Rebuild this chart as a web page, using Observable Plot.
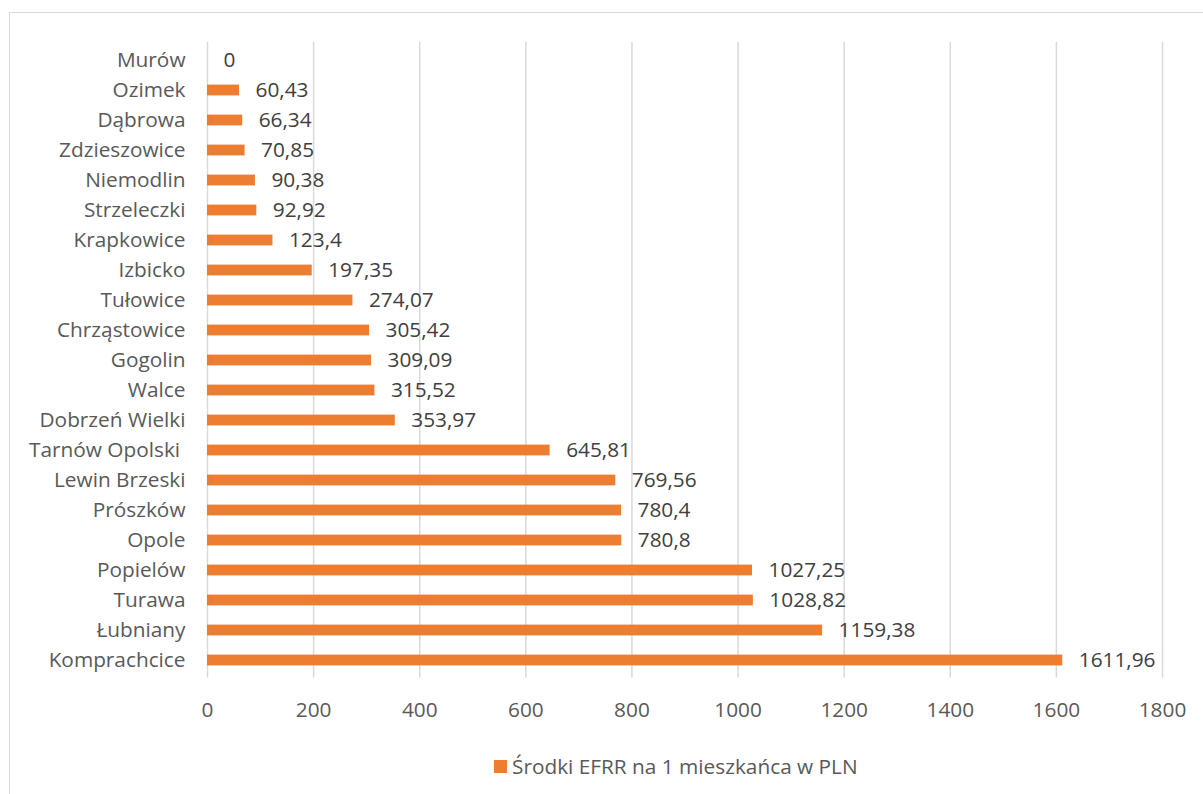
<!DOCTYPE html>
<html>
<head>
<meta charset="utf-8">
<script src="https://cdn.jsdelivr.net/npm/d3@7"></script>
<script src="https://cdn.jsdelivr.net/npm/@observablehq/plot@0.6"></script>
<style>
  html, body { margin: 0; padding: 0; background: #fff; overflow: hidden; }
  #frame { position: absolute; left: 9px; top: 12px; width: 1300px; height: 900px; border: 1.5px solid #d9d9d9; box-sizing: border-box; }
  #chart { position: absolute; left: 0; top: 0; }
  #chart svg { display: block; }
  #legend { position: absolute; left: 494px; top: 752px; font-family: "Open Sans", sans-serif; font-size: 20.8px; color: #595959; display: flex; align-items: center; white-space: nowrap; }
  #legend .sw { width: 13px; height: 13px; background: #ED7D31; margin-right: 5px; }
</style>
</head>
<body>
<div id="frame"></div>
<div id="chart"></div>
<div id="legend"><span class="sw"></span><span>Środki EFRR na 1 mieszkańca w PLN</span></div>
<script>
const categories = ["Murów","Ozimek","Dąbrowa","Zdzieszowice","Niemodlin","Strzeleczki","Krapkowice","Izbicko","Tułowice","Chrząstowice","Gogolin","Walce","Dobrzeń Wielki","Tarnów Opolski ","Lewin Brzeski","Prószków","Opole","Popielów","Turawa","Łubniany","Komprachcice"];
const values = [0,60.43,66.34,70.85,90.38,92.92,123.4,197.35,274.07,305.42,309.09,315.52,353.97,645.81,769.56,780.4,780.8,1027.25,1028.82,1159.38,1611.96];
const xTicks = [0,200,400,600,800,1000,1200,1400,1600,1800];
const seriesName = "Środki EFRR na 1 mieszkańca w PLN";

const data = categories.map((c, i) => ({name: c, value: values[i]}));
const fmt = v => String(v).replace(".", ",");

const chart = Plot.plot({
  width: 1203,
  height: 740,
  marginLeft: 207,
  marginRight: 41,
  marginTop: 42,
  marginBottom: 62.5,
  style: {fontFamily: "'Open Sans', sans-serif", background: "transparent"},
  x: {domain: [0, 1800], label: null},
  y: {domain: categories, padding: 0, label: null},
  marks: [
    Plot.gridX(xTicks, {stroke: "#d9d9d9", strokeOpacity: 1, strokeWidth: 1.5}),
    Plot.barX(data, {x: "value", y: "name", fill: "#ED7D31", insetTop: 9.6, insetBottom: 9.6}),
    Plot.text(data, {x: "value", y: "name", text: d => fmt(d.value), textAnchor: "start", dx: 16, fontSize: 20.8, fill: "#404040"}),
    Plot.axisX({ticks: xTicks, tickSize: 0, tickPadding: 24, fontSize: 20.8, color: "#595959", tickFormat: d => String(d), label: null}),
    Plot.axisY({tickSize: 0, tickPadding: 22, fontSize: 20.8, color: "#595959", label: null})
  ]
});
document.getElementById("chart").appendChild(chart);
</script>
</body>
</html>
